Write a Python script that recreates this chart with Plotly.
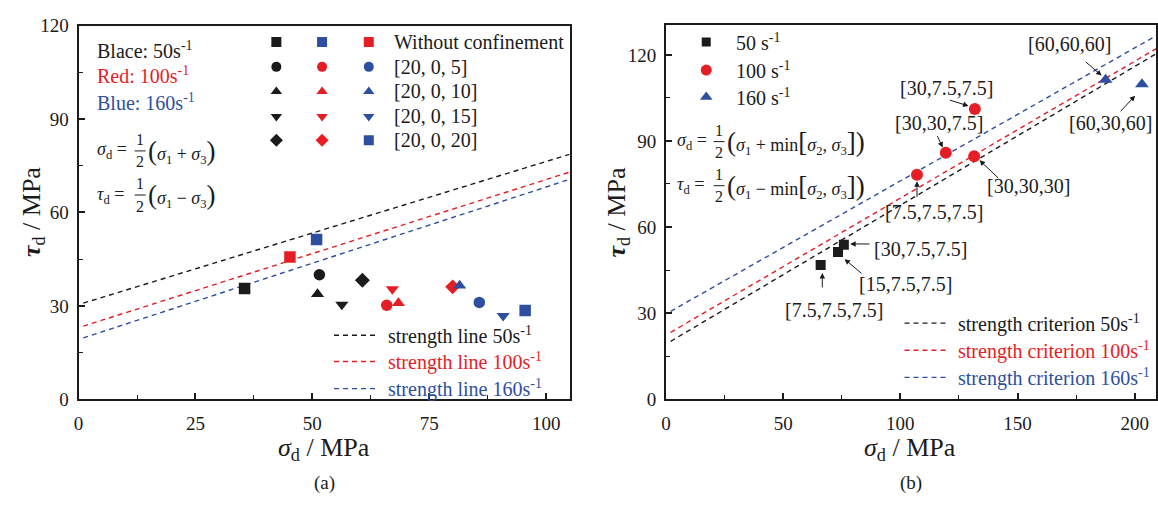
import plotly.graph_objects as go

W, H = 1158, 507
FONT = "Times New Roman, Liberation Serif, Tinos, serif"
BLACK = "#1b1b1b"
RED = "#e51e25"
BLUE = "#2e4f9f"

# ---------------- panel (a): dynamic strength under lateral confinement ----------------
conditions = ["Without confinement", "[20, 0, 5]", "[20, 0, 10]", "[20, 0, 15]", "[20, 0, 20]"]
symbols_bk_rd = ["square", "circle", "triangle-up", "triangle-down", "diamond"]
symbols_bl = ["square", "circle", "triangle-up", "triangle-down", "square"]

sigma_a_50 = [35.5, 51.5, 51.1, 56.3, 60.7]
tau_a_50 = [35.6, 40.0, 33.8, 30.4, 38.2]
sigma_a_100 = [45.2, 65.9, 68.4, 67.1, 80.0]
tau_a_100 = [45.7, 30.2, 30.9, 35.4, 36.1]
sigma_a_160 = [50.9, 85.7, 81.5, 90.8, 95.5]
tau_a_160 = [51.3, 31.1, 36.5, 26.8, 28.5]

# strength lines tau = c + k * sigma
line_a_names = ["strength line 50s<sup>-1</sup>", "strength line 100s<sup>-1</sup>",
                "strength line 160s<sup>-1</sup>"]
line_a_c = [30.4, 23.0, 19.2]
line_a_k = [0.460, 0.476, 0.490]
line_a_x = [1.0, 105.0]

# ---------------- panel (b): true-triaxial tests ----------------
sigma_b_50 = [66.0, 73.4, 75.9]
tau_b_50 = [46.8, 51.3, 53.8]
sigma_b_100 = [107.1, 119.4, 131.5, 131.8]
tau_b_100 = [78.2, 85.9, 84.7, 101.1]
sigma_b_160 = [187.6, 203.1]
tau_b_160 = [111.3, 109.8]

line_b_names = ["strength criterion 50s<sup>-1</sup>", "strength criterion 100s<sup>-1</sup>",
                "strength criterion 160s<sup>-1</sup>"]
line_b_c = [19.2, 22.35, 29.7]
line_b_k = [0.4838, 0.477, 0.4636]
line_b_x = [2.0, 210.0]

rate_labels = ["50 s<sup>-1</sup>", "100 s<sup>-1</sup>", "160 s<sup>-1</sup>"]
colors = [BLACK, RED, BLUE]

# labelled stress states: (label, arrow tail, arrow head, label centre)
callouts = [
    ("[7.5,7.5,7.5]", (66.7, 38.4), (66.7, 44.0), (71.5, 31.1)),
    ("[15,7.5,7.5]", (84.1, 43.4), (76.2, 48.8), (102.4, 40.1)),
    ("[30,7.5,7.5]", (87.5, 54.1), (78.6, 54.1), (108.7, 52.2)),
    ("[7.5,7.5,7.5]", (107.1, 69.9), (107.1, 76.0), (114.2, 65.2)),
    ("[30,30,7.5]", (115.5, 92.2), (118.1, 87.7), (116.5, 96.1)),
    ("[30,30,30]", (142.4, 76.6), (133.8, 83.3), (154.7, 74.4)),
    ("[30,7.5,7.5]", (120.5, 104.4), (129.1, 102.2), (119.7, 108.5)),
    ("[60,60,60]", (178.5, 118.0), (185.9, 112.8), (172.2, 123.9)),
    ("[60,30,60]", (193.4, 99.8), (200.2, 105.8), (189.5, 96.1)),
]

# ---------------- geometry (pixels) ----------------
A_L, A_R, B_L, B_R = 74, 568, 665, 1158
Y_BOT, A_TOP, B_TOP = 406, 16.5, 16
A_XR, A_YR = [0, 105], [0, 120]
B_XR, B_YR = [0, 209.1], [0, 130.3]


def a_data(px, py):
    x = A_XR[0] + (px - A_L) / (A_R - A_L) * (A_XR[1] - A_XR[0])
    y = A_YR[0] + (Y_BOT - py) / (Y_BOT - A_TOP) * (A_YR[1] - A_YR[0])
    return x, y


def b_data(px, py):
    x = B_XR[0] + (px - B_L) / (B_R - B_L) * (B_XR[1] - B_XR[0])
    y = B_YR[0] + (Y_BOT - py) / (Y_BOT - B_TOP) * (B_YR[1] - B_YR[0])
    return x, y


def px(x):
    return x / W


def py(y):
    return 1 - y / H


fig = go.Figure()

# strength lines
for name, c, k, col in zip(line_a_names, line_a_c, line_a_k, colors):
    fig.add_trace(go.Scatter(x=line_a_x, y=[c + k * v for v in line_a_x], mode="lines",
                             line=dict(color=col, width=1.4, dash="5px,4px"),
                             xaxis="x", yaxis="y", showlegend=False, hoverinfo="skip"))
for name, c, k, col in zip(line_b_names, line_b_c, line_b_k, colors):
    fig.add_trace(go.Scatter(x=line_b_x, y=[c + k * v for v in line_b_x], mode="lines",
                             line=dict(color=col, width=1.4, dash="5px,4px"),
                             xaxis="x2", yaxis="y2", showlegend=False, hoverinfo="skip"))

# panel (a) points
for sx, ty, col, syms in [(sigma_a_50, tau_a_50, BLACK, symbols_bk_rd),
                          (sigma_a_100, tau_a_100, RED, symbols_bk_rd),
                          (sigma_a_160, tau_a_160, BLUE, symbols_bl)]:
    fig.add_trace(go.Scatter(x=sx, y=ty, mode="markers", xaxis="x", yaxis="y",
                             marker=dict(symbol=syms, size=11.5, color=col, line=dict(width=0)),
                             showlegend=False))

# panel (b) points
for sx, ty, col, sym, sz in [(sigma_b_50, tau_b_50, BLACK, "square", 10),
                             (sigma_b_100, tau_b_100, RED, "circle", 12),
                             (sigma_b_160, tau_b_160, BLUE, "triangle-up", 12)]:
    fig.add_trace(go.Scatter(x=sx, y=ty, mode="markers", xaxis="x2", yaxis="y2",
                             marker=dict(symbol=sym, size=sz, color=col, line=dict(width=0)),
                             showlegend=False))

annotations = []
shapes = []


def text(x, y, s, size=20, color=BLACK, xanchor="left", yanchor="middle", ref=("paper", "paper")):
    annotations.append(dict(x=x, y=y, xref=ref[0], yref=ref[1], text=s, showarrow=False,
                            xanchor=xanchor, yanchor=yanchor,
                            font=dict(family=FONT, size=size, color=color)))


# ---- panel (a) key: marker grid ----
key_rows_py = [33.3, 59.3, 85.0, 111.0, 136.0]
key_cols_px = [273, 319, 366]
row_colors = [[BLACK, BLUE, RED]] + [[BLACK, RED, BLUE]] * 4
for r, (rowy, cond) in enumerate(zip(key_rows_py, conditions)):
    for c, colx in enumerate(key_cols_px):
        col = row_colors[r][c]
        sym = symbols_bl[r] if col == BLUE else symbols_bk_rd[r]
        kx, ky = a_data(colx, rowy)
        fig.add_trace(go.Scatter(x=[kx], y=[ky], mode="markers", xaxis="x", yaxis="y",
                                 marker=dict(symbol=sym, size=10, color=col, line=dict(width=0)),
                                 showlegend=False, hoverinfo="skip"))
    text(px(389.5), py(rowy), cond)

text(px(91), py(41.7), "Blace: 50s<sup>-1</sup>")
text(px(91), py(68.3), "Red: 100s<sup>-1</sup>", color=RED)
text(px(91), py(96.0), "Blue: 160s<sup>-1</sup>", color=BLUE)


def big(ch):
    return '<span style="font-size:27px">' + ch + '</span>'


def formula(x_left, y_mid, lhs, rhs, frac_x, rhs_x):
    text(px(x_left), py(y_mid), lhs, size=18)
    text(px(frac_x), py(y_mid - 11.5), "1", size=16, xanchor="center")
    text(px(frac_x), py(y_mid + 11.5), "2", size=16, xanchor="center")
    shapes.append(dict(type="line", xref="paper", yref="paper",
                       x0=px(frac_x - 5.5), x1=px(frac_x + 5.5), y0=py(y_mid), y1=py(y_mid),
                       line=dict(color=BLACK, width=1)))
    text(px(rhs_x), py(y_mid + 1), rhs, size=18)


formula(91, 147, "<i>σ</i><sub>d</sub> =",
        big("(") + "<i>σ</i><sub>1</sub> + <i>σ</i><sub>3</sub>" + big(")"), 136, 142)
formula(91, 193, "<i>τ</i><sub>d</sub> =",
        big("(") + "<i>σ</i><sub>1</sub> − <i>σ</i><sub>3</sub>" + big(")"), 136, 142)

formula(674, 137.3, "<i>σ</i><sub>d</sub> =",
        big("(") + "<i>σ</i><sub>1</sub> + min" + big("[") + "<i>σ</i><sub>2</sub>, <i>σ</i><sub>3</sub>"
        + big("]") + big(")"), 718.4, 724)
formula(674, 183.3, "<i>τ</i><sub>d</sub> =",
        big("(") + "<i>σ</i><sub>1</sub> − min" + big("[") + "<i>σ</i><sub>2</sub>, <i>σ</i><sub>3</sub>"
        + big("]") + big(")"), 718.4, 724)

# ---- panel (b) key ----
key_b_rows = [33.3, 62.7, 90.7]
for rowy, lab, col, sym, sz in zip(key_b_rows, rate_labels, colors,
                                  ["square", "circle", "triangle-up"], [9, 11, 11]):
    kx, ky = b_data(705.5, rowy)
    fig.add_trace(go.Scatter(x=[kx], y=[ky], mode="markers", xaxis="x2", yaxis="y2",
                             marker=dict(symbol=sym, size=sz, color=col, line=dict(width=0)),
                             showlegend=False, hoverinfo="skip"))
    text(px(733), py(rowy), lab)

# ---- line keys ----
for rowy, name, col in zip([339.3, 366.7, 395.0], line_a_names, colors):
    shapes.append(dict(type="line", xref="paper", yref="paper", x0=px(331), x1=px(374),
                       y0=py(rowy), y1=py(rowy), line=dict(color=col, width=1.4, dash="5px,4px")))
    text(px(383), py(rowy), name, color=col)
for rowy, name, col in zip([326.7, 355.0, 383.3], line_b_names, colors):
    shapes.append(dict(type="line", xref="paper", yref="paper", x0=px(905), x1=px(949),
                       y0=py(rowy), y1=py(rowy), line=dict(color=col, width=1.4, dash="5px,4px")))
    text(px(957), py(rowy), name, color=col)

# ---- callouts in panel (b) ----
for lab, tail, head, centre in callouts:
    annotations.append(dict(x=head[0], y=head[1], ax=tail[0], ay=tail[1],
                            xref="x2", yref="y2", axref="x2", ayref="y2", text="",
                            showarrow=True, arrowhead=2, arrowsize=1.1, arrowwidth=1,
                            arrowcolor=BLACK, standoff=0, startstandoff=0))
    text(centre[0], centre[1], lab, xanchor="center", ref=("x2", "y2"))

# ---- axis titles and captions ----
for cx in [(A_L + A_R) / 2, (B_L + 1160) / 2 - 2]:
    text(px(cx), py(458), "<i>σ</i><sub>d</sub> / MPa", size=26, xanchor="center")
text(px(321), py(493), "(a)", size=19, xanchor="center")
text(px(912), py(493), "(b)", size=19, xanchor="center")
for cx in [28, 617]:
    annotations.append(dict(x=px(cx), y=py(211), xref="paper", yref="paper",
                            text="<b><i>τ</i></b><sub>d</sub> / MPa", showarrow=False,
                            textangle=-90, xanchor="center", yanchor="middle",
                            font=dict(family=FONT, size=26, color=BLACK)))

axis_common = dict(showline=True, linecolor=BLACK, linewidth=2, mirror=True,
                   ticks="inside", tickcolor=BLACK, tickwidth=1.5, ticklen=6,
                   showgrid=False, zeroline=False,
                   tickfont=dict(family=FONT, size=19, color=BLACK))

fig.update_layout(
    width=W, height=H,
    margin=dict(l=0, r=0, t=0, b=0),
    paper_bgcolor="white", plot_bgcolor="white",
    showlegend=False,
    font=dict(family=FONT, color=BLACK),
    xaxis=dict(domain=[px(A_L), px(A_R)], range=A_XR, dtick=25, anchor="y",
               minor=dict(ticks="inside", dtick=12.5, ticklen=4, tickcolor=BLACK, tickwidth=1.2),
               ticklabelstandoff=6, **axis_common),
    yaxis=dict(domain=[py(Y_BOT), py(A_TOP)], range=A_YR, dtick=30, anchor="x",
               minor=dict(ticks="inside", dtick=15, ticklen=4, tickcolor=BLACK, tickwidth=1.2),
               ticklabelstandoff=4, **axis_common),
    xaxis2=dict(domain=[px(B_L), 1.0], range=B_XR, dtick=50, anchor="y2",
                minor=dict(ticks="inside", dtick=25, ticklen=4, tickcolor=BLACK, tickwidth=1.2),
                ticklabelstandoff=6, **axis_common),
    yaxis2=dict(domain=[py(Y_BOT), py(B_TOP)], range=B_YR, dtick=30, anchor="x2",
                minor=dict(ticks="inside", dtick=15, ticklen=4, tickcolor=BLACK, tickwidth=1.2),
                ticklabelstandoff=4, **axis_common),
    annotations=annotations,
    shapes=shapes,
)

fig.write_html("out.html")
